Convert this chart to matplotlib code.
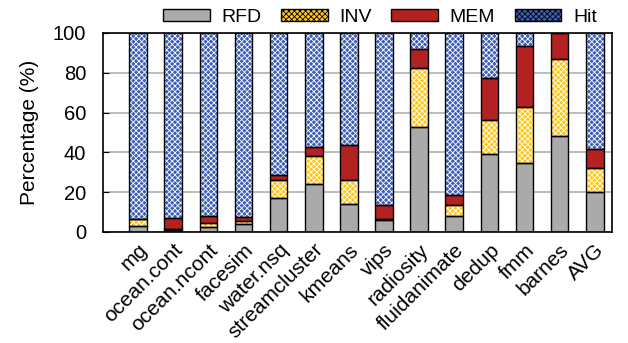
import numpy as np
import matplotlib
matplotlib.use("Agg")
from matplotlib import pyplot
from matplotlib.patches import Patch

pyplot.rcParams["font.family"] = ["Liberation Sans", "DejaVu Sans"]
pyplot.rcParams["hatch.linewidth"] = 0.6

benchmarks = ["mg", "ocean.cont", "ocean.ncont", "facesim", "water.nsq",
              "streamcluster", "kmeans", "vips", "radiosity", "fluidanimate",
              "dedup", "fmm", "barnes", "AVG"]

# percentages per category
rfd = [3.2, 1.0, 2.4, 4.0, 16.9, 24.1, 14.2, 6.0, 52.9, 8.0, 39.2, 34.5, 48.2, 19.8]
inv = [3.2, 0.5, 2.0, 1.5, 9.4, 13.9, 11.8, 0.3, 29.7, 5.4, 16.9, 28.2, 38.6, 12.2]
mem = [0.0, 5.4, 3.8, 1.9, 2.3, 4.9, 17.7, 7.1, 9.5, 5.0, 21.4, 30.8, 13.2, 9.6]
hit = [100 - a - b - c for a, b, c in zip(rfd, inv, mem)]

series = [("RFD", rfd, "#aaaaaa", None),
          ("INV", inv, "#ffc61a", "xxxxxx"),
          ("MEM", mem, "#b22222", None),
          ("Hit", hit, "#3f5fb5", "xxxxxx")]

figure = pyplot.figure(figsize=(6.28, 3.43), dpi=100)
axes = figure.add_axes([0.164, 0.324, 0.811, 0.58])

x = np.arange(len(benchmarks))
width = 0.5
bottom = np.zeros(len(benchmarks))
handles = []
for name, vals, color, hatch in series:
    vals = np.array(vals)
    if hatch:
        axes.bar(x, vals, width, bottom=bottom, color=color, hatch=hatch,
                 edgecolor="white", linewidth=0, zorder=2)
    else:
        axes.bar(x, vals, width, bottom=bottom, color=color, linewidth=0, zorder=2)
    # outline
    axes.bar(x, vals, width, bottom=bottom, fill=False, edgecolor="black",
             linewidth=1.0, zorder=3)
    bottom += vals
    handles.append(Patch(facecolor=color, hatch=hatch, edgecolor="black",
                         linewidth=1.0, label=name))

axes.set_xlim(-1.0, 13.5)
axes.set_ylim(0, 100)
axes.set_yticks([0, 20, 40, 60, 80, 100])
axes.yaxis.grid(True, color="#b0b0b0", linewidth=1.2, zorder=0)
axes.set_axisbelow(True)
axes.tick_params(axis="y", direction="in", length=4, labelsize=14.5, pad=12)
axes.tick_params(axis="x", length=0, labelsize=15, pad=6)
axes.set_xticks(x)
axes.set_xticklabels(benchmarks, rotation=45, ha="right", rotation_mode="anchor")
axes.set_ylabel("Percentage (%)", fontsize=15, labelpad=10)
for s in axes.spines.values():
    s.set_linewidth(1.2)

figure.legend(handles=handles, loc="upper center", bbox_to_anchor=(0.605, 1.025),
              ncol=4, frameon=False, fontsize=14, handlelength=2.4,
              handleheight=0.5, columnspacing=1.0, handletextpad=0.6)

pyplot.savefig("out.png", dpi=100)
